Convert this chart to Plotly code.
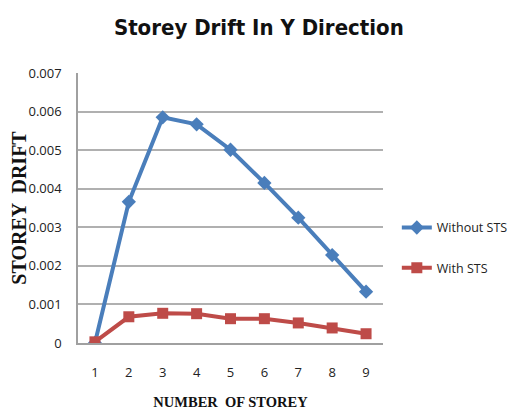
import plotly.graph_objects as go

storeys = [1, 2, 3, 4, 5, 6, 7, 8, 9]
without_sts = [0.0, 0.00366, 0.00585, 0.00567, 0.00501, 0.00415, 0.00325, 0.00228, 0.00133]
with_sts = [0.00003, 0.00068, 0.00077, 0.00076, 0.00063, 0.00063, 0.00052, 0.00039, 0.00024]
y_ticks = [0, 0.001, 0.002, 0.003, 0.004, 0.005, 0.006, 0.007]
y_tick_text = ["0", "0.001", "0.002", "0.003", "0.004", "0.005", "0.006", "0.007"]

fig = go.Figure()
fig.add_trace(go.Scatter(
    x=storeys, y=without_sts, name="Without STS", mode="lines+markers",
    legendgroup="a",
    line=dict(color="#4a7ebb", width=4),
    marker=dict(symbol="diamond", size=11, color="#4a7ebb"),
))
fig.add_trace(go.Scatter(
    x=storeys, y=with_sts, name="With STS", mode="lines+markers",
    legendgroup="b",
    line=dict(color="#be4b48", width=4),
    marker=dict(symbol="square", size=11, color="#be4b48"),
))

fig.update_layout(
    width=515, height=410,
    margin=dict(l=70, r=140, t=65, b=75),
    paper_bgcolor="white", plot_bgcolor="white",
    title=dict(text="<b>Storey Drift In Y Direction</b>", x=0.487, xanchor="center",
               xref="container", y=0.954, yanchor="middle",
               font=dict(family="DejaVu Sans Condensed, DejaVu Sans", size=22, color="#111")),
    showlegend=True,
    legend=dict(x=0.755, y=0.415, xref="container", yref="container",
                xanchor="left", yanchor="middle",
                font=dict(family="Open Sans", size=12.5, color="#222"),
                traceorder="grouped", tracegroupgap=21, itemwidth=30,
                borderwidth=0, bgcolor="rgba(0,0,0,0)"),
    font=dict(family="Open Sans", color="#222"),
)
fig.update_xaxes(
    range=[0.5, 9.5], tickvals=storeys, ticktext=[str(s) for s in storeys],
    showgrid=False, showline=True, linecolor="#a0a0a0", linewidth=1.5,
    ticks="", tickfont=dict(family="Open Sans", size=13, color="#222"),
    ticklabelstandoff=17,
    title=dict(text="<b>NUMBER  OF STOREY</b>", standoff=17,
               font=dict(family="Liberation Serif", size=14.5, color="#111")),
    zeroline=False, automargin=False,
)
fig.update_yaxes(
    range=[0, 0.007], tickvals=y_ticks, ticktext=y_tick_text,
    showgrid=True, gridcolor="#b0b0b0", gridwidth=1.5,
    showline=True, linecolor="#a0a0a0", linewidth=1.5,
    ticks="", tickfont=dict(family="Open Sans", size=13, color="#222"),
    ticklabelstandoff=12,
    title=dict(text="<b>STOREY  DRIFT</b>", standoff=6,
               font=dict(family="Liberation Serif", size=20, color="#111")),
    zeroline=False, automargin=False,
)
fig.write_html("out.html")
